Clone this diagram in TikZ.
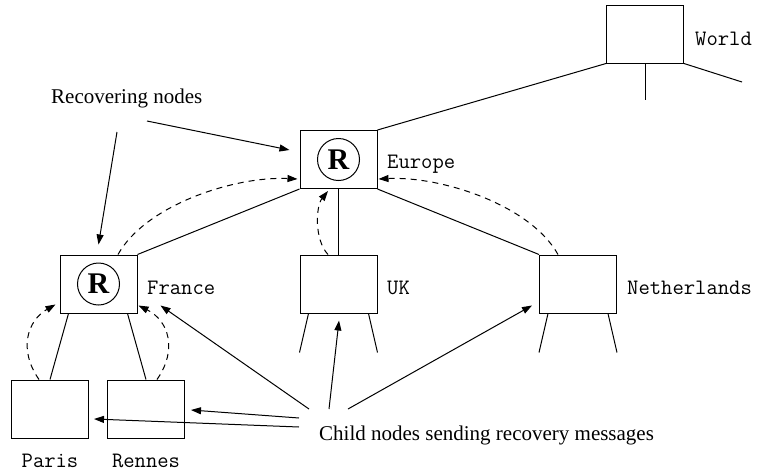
\documentclass[tikz,border=0pt]{standalone}
\usepackage{fontspec}
\setmainfont{Liberation Serif}
\usetikzlibrary{arrows.meta,calc}

\begin{document}
\begin{tikzpicture}[x=1pt, y=-1pt, >={Triangle[length=10pt,width=7pt]},
    site/.style={draw, line width=1pt, minimum width=77pt, minimum height=58pt, inner sep=0pt},
    ring/.style={draw, circle, line width=1pt, minimum size=42pt, inner sep=0pt,
      font=\fontsize{30}{30}\selectfont\bfseries},
    sitename/.style={font=\ttfamily\fontsize{22}{23}\selectfont, inner sep=0pt, anchor=base west},
    remark/.style={font=\fontsize{21}{24}\selectfont, inner sep=0pt, anchor=base west},
    link/.style={line width=1pt},
    resend/.style={->, line width=1pt, dash pattern=on 6pt off 5pt}]
    \useasboundingbox (0,0) rectangle (766,472);

    % Tree of sites
    \node[site] (world)  at (645,34)    {};
    \node[site] (europe) at (338.5,159.5) {};
    \node[site] (france) at (98.5,284)  {};
    \node[site] (uk)     at (338.5,284) {};
    \node[site] (neth)   at (578,284)   {};
    \node[site] (paris)  at (50,409)    {};
    \node[site] (rennes) at (146,409)   {};

    % Recovering marks
    \node[ring] (europe-r) at (europe) {R};
    \node[ring] (france-r) at (france) {R};

    % Site names
    \node[sitename] (world-l)  at (695,45)  {World};
    \node[sitename] (europe-l) at (387,168) {Europe};
    \node[sitename] (france-l) at (147,294) {France};
    \node[sitename] (uk-l)     at (387,294) {UK};
    \node[sitename] (neth-l)   at (627,294) {Netherlands};
    \node[sitename, anchor=base] (paris-l)  at (50,467)  {Paris};
    \node[sitename, anchor=base] (rennes-l) at (146,467) {Rennes};

    % Remarks
    \node[remark] (recov) at (51,103)  {Recovering nodes};
    \node[remark] (child) at (319,440) {Child nodes sending recovery messages};

    % Free ends
    \coordinate (world-c) at (645,100);
    \coordinate (world-r) at (742,82);
    \coordinate (rec-fr) at (117,132);
    \coordinate (rec-eu) at (147,121);
    \coordinate (msg-fr) at (309,409);
    \coordinate (msg-uk) at (329,409);
    \coordinate (msg-nl) at (348,409);
    \coordinate (msg-rn) at (299,418);
    \coordinate (msg-pa) at (299,427);

    % Tree links
    \draw[link] (world.south west) -- (europe.north east);
    \draw[link] (world.south) -- (world-c);
    \draw[link] (world.south east) -- (world-r);
    \draw[link] (europe.south west) -- (france.north east);
    \draw[link] (europe.south) -- (uk.north);
    \draw[link] (europe.south east) -- (neth.north west);
    \draw[link] ($(france.south west)+(9,0)$) -- (paris.north);
    \draw[link] ($(france.south east)+(-10,0)$) -- (rennes.north);
    \foreach \n in {uk,neth} {
      \draw[link] ($(\n.south west)+(9,0)$) -- ($(\n.south west)+(0,39)$);
      \draw[link] ($(\n.south east)+(-9,0)$) -- ($(\n.south east)+(0,39)$);
    }

    % Recovery messages up the tree
    \draw[resend] ($(paris.north)+(-11,0)$) .. controls +(-21,-30) and +(-28,16) .. ($(france.south west)+(-4,-9)$);
    \draw[resend] ($(rennes.north)+(11,0)$) .. controls +(21,-30) and +(30,15) .. ($(france.south east)+(1,-8)$);
    \draw[resend] ($(france.north)+(19.5,0)$) .. controls +(28,-50) and +(-62,-3) .. ($(europe.south west)+(-2,-10)$);
    \draw[resend] ($(neth.north)+(-20,0)$) .. controls +(-28,-50) and +(62,-3) .. ($(europe.south east)+(1,-10)$);
    \draw[resend] ($(uk.north)+(-10.5,0)$) .. controls +(-14,-15) and +(-12,15) .. ($(europe.south)+(-10.5,2)$);

    % Pointers from the remarks
    \draw[->, link] (rec-fr) -- ($(france.north)+(0,-10)$);
    \draw[->, link] (rec-eu) -- ($(europe.west)+(-10,-9.5)$);
    \draw[->, link] (msg-fr) -- ($(france.south east)+(23,-8)$);
    \draw[->, link] (msg-uk) -- ($(uk.south)+(0.5,7)$);
    \draw[->, link] (msg-nl) -- ($(neth.south west)+(-7,-8)$);
    \draw[->, link] (msg-rn) -- ($(rennes.east)+(6,1)$);
    \draw[->, link] (msg-pa) -- ($(paris.east)+(5,10)$);
\end{tikzpicture}
\end{document}
